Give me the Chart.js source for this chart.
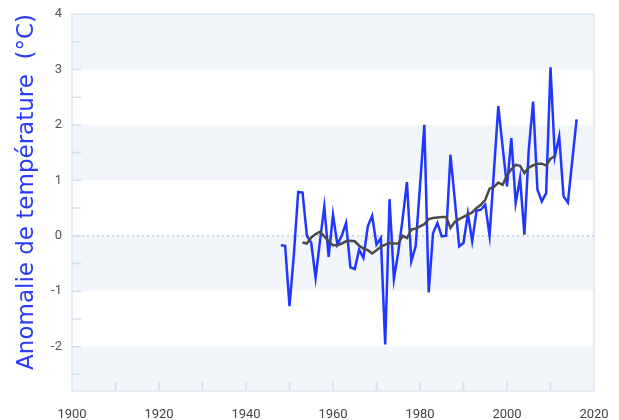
<!DOCTYPE html>
<html>
<head>
<meta charset="utf-8">
<script src="https://cdn.jsdelivr.net/npm/chart.js@4.4.1/dist/chart.umd.min.js"></script>
<style>
  html, body { margin: 0; padding: 0; background: #fff; }
  #wrap { width: 619px; height: 420px; }
</style>
</head>
<body>
<div id="wrap"><canvas id="chart" width="619" height="420"></canvas></div>
<script>
// annual anomaly (blue) and smoothed curve (gray)
const years = [1948,1949,1950,1951,1952,1953,1954,1955,1956,1957,1958,1959,1960,1961,1962,1963,1964,1965,1966,1967,
  1968,1969,1970,1971,1972,1973,1974,1975,1976,1977,1978,1979,1980,1981,1982,1983,1984,1985,1986,1987,
  1988,1989,1990,1991,1992,1993,1994,1995,1996,1997,1998,1999,2000,2001,2002,2003,2004,2005,2006,2007,
  2008,2009,2010,2011,2012,2013,2014,2015,2016]
const anomaly = [-0.17,-0.18,-1.27,-0.35,0.79,0.78,0.0,-0.13,-0.76,-0.1,0.53,-0.38,0.38,-0.16,0.0,0.23,-0.57,-0.6,-0.25,-0.40,
  0.17,0.36,-0.16,-0.04,-1.96,0.66,-0.78,-0.30,0.30,0.97,-0.46,-0.19,0.9,2.0,-1.02,0.05,0.23,-0.01,0.0,1.46,
  0.65,-0.19,-0.13,0.40,-0.10,0.45,0.47,0.56,0.0,1.17,2.34,1.6,0.89,1.76,0.59,1.04,0.02,1.55,2.42,0.83,
  0.62,0.77,3.04,1.43,1.79,0.71,0.60,1.35,2.10]

const smoothYears = [1953,1954,1955,1956,1957,1958,1959,1960,1961,1962,1963,1964,1965,1966,1967,1968,1969,1970,1971,1972,
  1973,1974,1975,1976,1977,1978,1979,1980,1981,1982,1983,1984,1985,1986,1987,1988,1989,1990,1991,1992,
  1993,1994,1995,1996,1997,1998,1999,2000,2001,2002,2003,2004,2005,2006,2007,2008,2009,2010,2011]
const smooth = [-0.12,-0.14,-0.03,0.03,0.07,-0.01,-0.10,-0.17,-0.17,-0.14,-0.10,-0.09,-0.10,-0.18,-0.23,-0.26,-0.32,-0.26,-0.20,-0.16,
  -0.13,-0.14,-0.14,0.00,-0.04,0.11,0.13,0.17,0.21,0.30,0.32,0.33,0.34,0.34,0.14,0.25,0.30,0.34,0.38,0.42,
  0.50,0.56,0.65,0.85,0.88,0.96,0.92,1.09,1.20,1.28,1.26,1.13,1.23,1.27,1.30,1.30,1.27,1.39,1.43]

const xMin = 1900, xMax = 2020
const yMin = -2.8, yMax = 4
const yTitle = 'Anomalie de température  (°C)'

const toPoints = (xs, ys) => xs.map((x, i) => ({x: x, y: ys[i]}))

// stripes, zero line, frame and inner tick marks
const decor = {
  id: 'decor',
  beforeDatasetsDraw(chart) {
    const {ctx, chartArea: a, scales: {x, y}} = chart
    ctx.save()
    for (let v = yMax; v > yMin; v--) {
      if ((yMax - v) % 2 == 0) {
        const top = y.getPixelForValue(v)
        const bot = y.getPixelForValue(Math.max(v - 1, yMin))
        ctx.fillStyle = '#f2f5fa'
        ctx.fillRect(a.left, top, a.right - a.left, bot - top)
      }
    }
    // zero line
    ctx.strokeStyle = '#b9cfe0'
    ctx.lineWidth = 1.5
    ctx.setLineDash([2, 3])
    ctx.beginPath()
    ctx.moveTo(a.left, y.getPixelForValue(0))
    ctx.lineTo(a.right, y.getPixelForValue(0))
    ctx.stroke()
    ctx.setLineDash([])
    // ticks
    ctx.strokeStyle = '#d3dfea'
    ctx.lineWidth = 1.5
    ctx.beginPath()
    y.ticks.forEach(t => {
      if (t.value > yMin && t.value < yMax) {
        const py = y.getPixelForValue(t.value)
        ctx.moveTo(a.left, py)
        ctx.lineTo(a.left + 9, py)
      }
    })
    x.ticks.forEach(t => {
      if (t.value > xMin && t.value < xMax) {
        const px = x.getPixelForValue(t.value)
        ctx.moveTo(px, a.bottom)
        ctx.lineTo(px, a.bottom - 9)
      }
    })
    ctx.stroke()
    ctx.strokeStyle = '#dce5ef'
    ctx.strokeRect(a.left, a.top, a.right - a.left, a.bottom - a.top)
    ctx.restore()
  }
}

new Chart(document.getElementById('chart'), {
  type: 'line',
  data: {
    datasets: [{
      data: toPoints(smoothYears, smooth),
      borderColor: '#4a4a4a',
      borderWidth: 2.5,
      pointRadius: 0,
      fill: false
    }, {
      data: toPoints(years, anomaly),
      borderColor: '#1f37ff',
      borderWidth: 2.5,
      pointRadius: 0,
      fill: false
    }]
  },
  options: {
    responsive: false,
    animation: false,
    layout: {padding: {top: 14, right: 25, left: 0, bottom: 0}},
    plugins: {legend: {display: false}, tooltip: {enabled: false}},
    scales: {
      x: {
        type: 'linear',
        min: xMin, max: xMax,
        border: {display: false},
        grid: {display: false},
        ticks: {
          stepSize: 10,
          padding: 8,
          color: '#444',
          font: {family: 'Roboto', size: 13},
          maxRotation: 0,
          autoSkip: false,
          callback: v => v % 20 == 0 ? String(v) : ''
        },
        afterFit: s => { s.height = 29 }
      },
      y: {
        min: yMin, max: yMax,
        border: {display: false},
        grid: {display: false},
        ticks: {
          stepSize: 0.5,
          padding: 2,
          color: '#555',
          font: {family: 'Roboto', size: 13},
          autoSkip: false,
          callback: v => Number.isInteger(v) ? String(v) : ''
        },
        title: {
          display: true,
          text: yTitle,
          align: 'end',
          color: '#2a3cf5',
          font: {family: 'DejaVu Sans', size: 23},
          padding: {top: 13, bottom: 0}
        },
        afterFit: s => { s.width = 72 }
      }
    }
  },
  plugins: [decor]
})
</script>
</body>
</html>
